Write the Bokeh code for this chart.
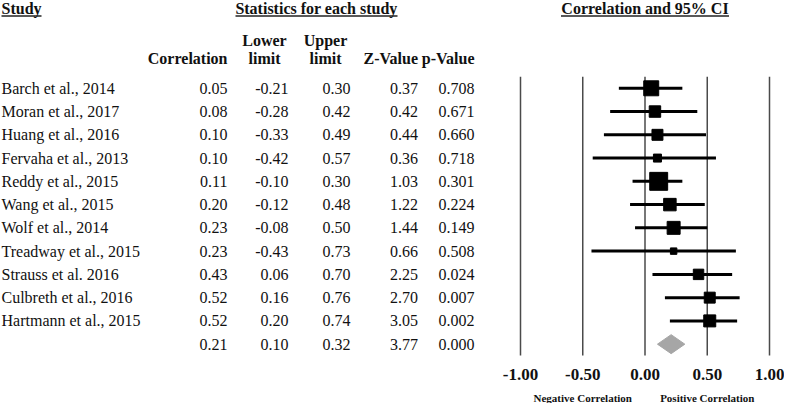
from bokeh.plotting import figure
from bokeh.models import Range1d
from bokeh.core.properties import value
from bokeh.embed import file_html
from bokeh.resources import INLINE

# ---------------- data ----------------
studies = ["Barch et al., 2014", "Moran et al., 2017", "Huang et al., 2016",
           "Fervaha et al., 2013", "Reddy et al., 2015", "Wang et al., 2015",
           "Wolf et al., 2014", "Treadway et al., 2015", "Strauss et al. 2016",
           "Culbreth et al., 2016", "Hartmann et al., 2015"]
correlation = [0.05, 0.08, 0.10, 0.10, 0.11, 0.20, 0.23, 0.23, 0.43, 0.52, 0.52]
lower = [-0.21, -0.28, -0.33, -0.42, -0.10, -0.12, -0.08, -0.43, 0.06, 0.16, 0.20]
upper = [0.30, 0.42, 0.49, 0.57, 0.30, 0.48, 0.50, 0.73, 0.70, 0.76, 0.74]
z_value = [0.37, 0.42, 0.44, 0.36, 1.03, 1.22, 1.44, 0.66, 2.25, 2.70, 3.05]
p_value = [0.708, 0.671, 0.660, 0.718, 0.301, 0.224, 0.149, 0.508, 0.024, 0.007, 0.002]
rel_weight = [14.0, 8.2, 7.5, 4.0, 20.1, 9.7, 10.5, 2.6, 6.8, 7.5, 9.0]  # % weight

summary_correlation = 0.21
summary_lower = 0.10
summary_upper = 0.32
summary_z = 3.77
summary_p = 0.000

tick_values = [-1.0, -0.5, 0.0, 0.5, 1.0]
tick_labels = ["-1.00", "-0.50", "0.00", "0.50", "1.00"]
direction_labels = ["Negative Correlation", "Positive Correlation"]
direction_at = [-0.5, 0.5]

# ---------------- layout ----------------
W, H = 784, 403
FONT = value("Liberation Serif")

p = figure(width=W, height=H, x_range=Range1d(0, W), y_range=Range1d(H, 0),
           output_backend="svg", toolbar_location=None, min_border=0,
           x_axis_location=None, y_axis_location=None)
p.grid.visible = False
p.outline_line_color = None

px_lo, px_hi = 520.0, 769.0          # pixel positions of -1 and +1
ppu = (px_hi - px_lo) / 2.0
p.extra_x_ranges = {"corr": Range1d(-1 - px_lo / ppu, 1 + (W - px_hi) / ppu)}

row_y0, row_step = 87.8, 23.26
n = len(studies)
rows_y = [row_y0 + i * row_step for i in range(n + 1)]
study_y = rows_y[:n]
sum_y = rows_y[n]

def txt(x, y, t, size="16px", align="left", bold=False, **kw):
    p.text(x=x, y=y, text=t, text_font=FONT, text_font_size=size,
           text_align=align, text_baseline="middle", text_color="#111111",
           text_font_style="bold" if bold else "normal", **kw)

# headers (underlined)
hy, uy = 8.0, 15.5
txt([1], [hy], ["Study"], bold=True)
txt([316], [hy], ["Statistics for each study"], align="center", bold=True)
txt([0.0], [hy], ["Correlation and 95% CI"], align="center", bold=True, x_range_name="corr")
p.segment(x0=[1, 235], y0=[uy] * 2, x1=[41, 397], y1=[uy] * 2,
          line_color="#222222", line_width=1.5)
half = 84.0 / ppu
p.segment(x0=[-half], y0=[uy], x1=[half], y1=[uy], x_range_name="corr",
          line_color="#222222", line_width=1.5)

# column headers
txt([264, 325], [39.6, 39.6], ["Lower", "Upper"], align="center", bold=True)
txt([264, 325], [57.9, 57.9], ["limit", "limit"], align="center", bold=True)
txt([227, 417.5, 474], [57.9] * 3, ["Correlation", "Z-Value", "p-Value"],
    align="right", bold=True)

# table body
fmt2 = lambda v: "%.2f" % v
txt([1] * n, study_y, studies)
col_x = [227, 288, 350, 417.5, 474]
cols = [
    [fmt2(v) for v in correlation + [summary_correlation]],
    [fmt2(v) for v in lower + [summary_lower]],
    [fmt2(v) for v in upper + [summary_upper]],
    [fmt2(v) for v in z_value + [summary_z]],
    ["%.3f" % v for v in p_value + [summary_p]],
]
for cx, vals in zip(col_x, cols):
    txt([cx] * len(vals), rows_y, vals, align="right")

# forest plot
top_line, bottom_line = 76.2, 355.1
p.segment(x0=tick_values, y0=[top_line] * 5, x1=tick_values, y1=[bottom_line] * 5,
          x_range_name="corr", line_color="#4a4a4a", line_width=1.5)
p.segment(x0=lower, y0=study_y, x1=upper, y1=study_y, x_range_name="corr",
          line_color="#000000", line_width=3)
sizes = [4.0 * (w ** 0.5) for w in rel_weight]
p.scatter(x=correlation, y=study_y, size=sizes, marker="square", x_range_name="corr",
          fill_color="#000000", line_color="#000000")
dh = 9.5
p.patch(x=[summary_lower, summary_correlation, summary_upper, summary_correlation],
        y=[sum_y, sum_y - dh, sum_y, sum_y + dh], x_range_name="corr",
        fill_color="#a6a6a6", line_color="#a6a6a6")

# tick labels
txt(tick_values, [373.5] * 5, tick_labels, size="17px", align="center", bold=True,
    x_range_name="corr")

# direction notes
txt(direction_at, [397.5] * 2, direction_labels, size="11px", align="center", bold=True,
    x_range_name="corr")

open("out.html", "w").write(file_html(p, INLINE))
